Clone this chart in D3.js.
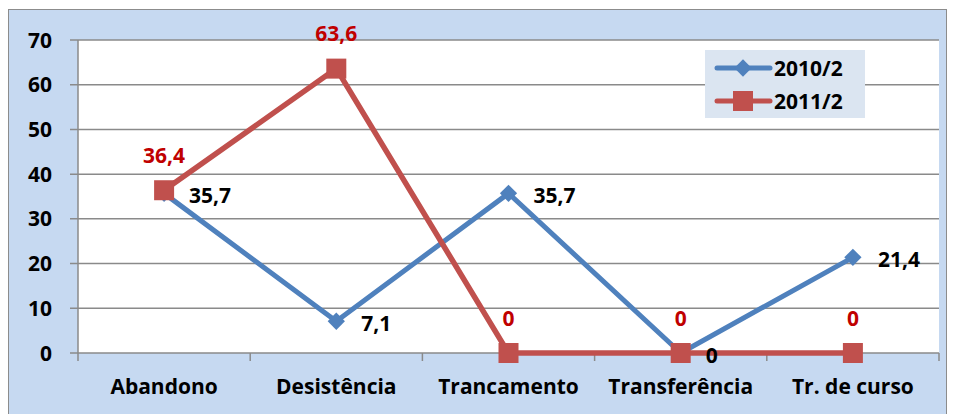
<!DOCTYPE html>
<html>
<head>
<meta charset="utf-8">
<script src="https://cdn.jsdelivr.net/npm/d3@7"></script>
<style>
  body { margin: 0; background: #fff; }
  svg text { font-family: "Open Sans", Lato, sans-serif; font-weight: bold; }
</style>
</head>
<body>
<div id="chart"></div>
<script>
/* Chart data. */
const categories = ['Abandono', 'Desistência', 'Trancamento', 'Transferência', 'Tr. de curso'];
const series2010 = [35.7, 7.1, 35.7, 0, 21.4];
const series2011 = [36.4, 63.6, 0, 0, 0];
const yTicks = [0, 10, 20, 30, 40, 50, 60, 70];

const W = 955, H = 414;
const plot = { left: 78, right: 939, top: 40, bottom: 353 };
const fs = 21;
const fmt = (v) => String(v).replace('.', ',');

const svg = d3.select('#chart').append('svg')
  .attr('width', W)
  .attr('height', H);

// outer chart area
svg.append('rect')
  .attr('x', 8.5).attr('y', 9.5)
  .attr('width', 938).attr('height', 410)
  .attr('fill', '#c6d9f1')
  .attr('stroke', '#8c8c8c')
  .attr('stroke-width', 1);

svg.append('rect')
  .attr('x', plot.left).attr('y', plot.top)
  .attr('width', plot.right - plot.left)
  .attr('height', plot.bottom - plot.top)
  .attr('fill', '#fff');

const x = d3.scaleBand()
  .domain(categories)
  .range([plot.left, plot.right]);

const y = d3.scaleLinear()
  .domain([0, 70])
  .range([plot.bottom, plot.top]);

const cx = (c) => x(c) + x.bandwidth() / 2;

// gridlines
svg.append('g')
  .selectAll('line')
  .data(yTicks)
  .enter()
  .append('line')
  .attr('x1', plot.left - 8)
  .attr('x2', plot.right)
  .attr('y1', (d) => y(d))
  .attr('y2', (d) => y(d))
  .attr('stroke', '#8a8a8a')
  .attr('stroke-width', 1.5);

// left axis line
svg.append('line')
  .attr('x1', plot.left).attr('x2', plot.left)
  .attr('y1', plot.top).attr('y2', plot.bottom + 8)
  .attr('stroke', '#8a8a8a')
  .attr('stroke-width', 1.5);

// x tick marks at category boundaries
svg.append('g')
  .selectAll('line')
  .data(categories.slice(1).concat(['__end']))
  .enter()
  .append('line')
  .attr('x1', (d) => d === '__end' ? plot.right : x(d))
  .attr('x2', (d) => d === '__end' ? plot.right : x(d))
  .attr('y1', plot.bottom)
  .attr('y2', plot.bottom + 8)
  .attr('stroke', '#8a8a8a')
  .attr('stroke-width', 1.5);

// y labels
svg.append('g')
  .selectAll('text')
  .data(yTicks)
  .enter()
  .append('text')
  .attr('x', 52)
  .attr('y', (d) => y(d))
  .attr('dy', '0.36em')
  .attr('text-anchor', 'end')
  .attr('font-size', fs)
  .attr('fill', '#000')
  .text((d) => d);

// x labels
svg.append('g')
  .selectAll('text')
  .data(categories)
  .enter()
  .append('text')
  .attr('x', (d) => cx(d))
  .attr('y', 386)
  .attr('dy', '0.36em')
  .attr('text-anchor', 'middle')
  .attr('font-size', fs)
  .attr('fill', '#000')
  .text((d) => d);

const line = d3.line()
  .x((d, i) => cx(categories[i]))
  .y((d) => y(d));

const blue = '#4f81bd', red = '#c0504d';
const sq = 20;

// 2010/2
svg.append('path')
  .datum(series2010)
  .attr('d', line)
  .attr('fill', 'none')
  .attr('stroke', blue)
  .attr('stroke-width', 5)
  .attr('stroke-linejoin', 'round');

const diamond = d3.symbol().type(d3.symbolDiamond2).size(190);

svg.append('g')
  .selectAll('path')
  .data(series2010)
  .enter()
  .append('path')
  .attr('d', diamond)
  .attr('transform', (d, i) => `translate(${cx(categories[i])},${y(d)})`)
  .attr('fill', blue);

// 2011/2
svg.append('path')
  .datum(series2011)
  .attr('d', line)
  .attr('fill', 'none')
  .attr('stroke', red)
  .attr('stroke-width', 5.5)
  .attr('stroke-linejoin', 'round');

svg.append('g')
  .selectAll('rect')
  .data(series2011)
  .enter()
  .append('rect')
  .attr('x', (d, i) => cx(categories[i]) - sq / 2)
  .attr('y', (d) => y(d) - sq / 2)
  .attr('width', sq)
  .attr('height', sq)
  .attr('fill', red);

// data labels
svg.append('g')
  .selectAll('text')
  .data(series2010)
  .enter()
  .append('text')
  .attr('x', (d, i) => cx(categories[i]) + 25)
  .attr('y', (d) => y(d) + 2)
  .attr('dy', '0.36em')
  .attr('font-size', fs)
  .attr('fill', '#000')
  .text(fmt);

svg.append('g')
  .selectAll('text')
  .data(series2011)
  .enter()
  .append('text')
  .attr('x', (d, i) => cx(categories[i]))
  .attr('y', (d) => y(d) - 35)
  .attr('dy', '0.36em')
  .attr('text-anchor', 'middle')
  .attr('font-size', fs)
  .attr('fill', '#c00000')
  .text(fmt);

// legend
const legend = svg.append('g');
legend.append('rect')
  .attr('x', 705).attr('y', 50)
  .attr('width', 160).attr('height', 68)
  .attr('fill', '#dbe5f1');

const legendItems = [
  { name: '2010/2', color: blue, shape: 'diamond' },
  { name: '2011/2', color: red, shape: 'square' }
];

legendItems.forEach((item, i) => {
  const ly = 68 + i * 33;
  legend.append('line')
    .attr('x1', 717).attr('x2', 770)
    .attr('y1', ly).attr('y2', ly)
    .attr('stroke', item.color)
    .attr('stroke-width', 5)
    .attr('stroke-linecap', 'round');
  if (item.shape === 'diamond') {
    legend.append('path')
      .attr('d', diamond)
      .attr('transform', `translate(743,${ly})`)
      .attr('fill', item.color);
  } else {
    legend.append('rect')
      .attr('x', 743 - sq / 2).attr('y', ly - sq / 2)
      .attr('width', sq).attr('height', sq)
      .attr('fill', item.color);
  }
  legend.append('text')
    .attr('x', 774)
    .attr('y', ly)
    .attr('dy', '0.36em')
    .attr('font-size', fs)
    .attr('fill', '#000')
    .text(item.name);
});
</script>
</body>
</html>
